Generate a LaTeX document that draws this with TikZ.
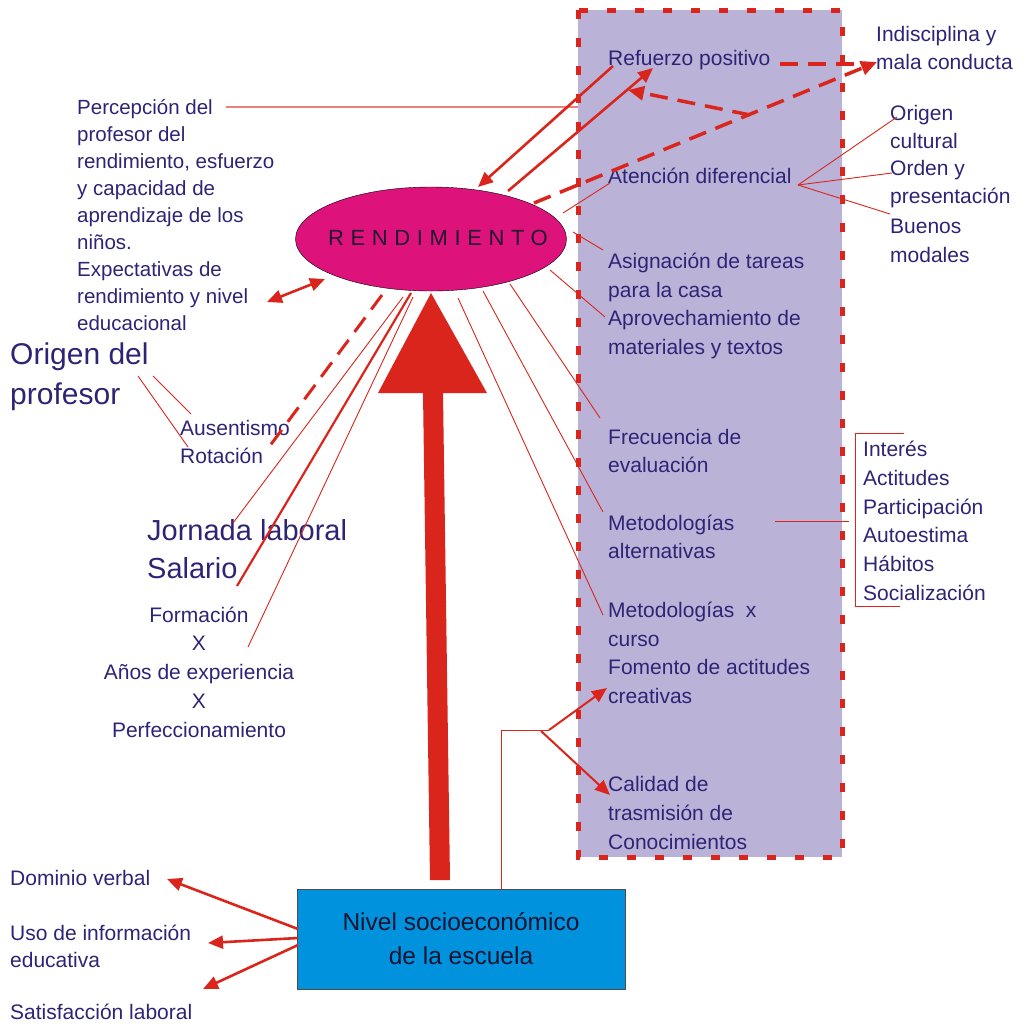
\documentclass[tikz,border=0pt]{standalone}
\usepackage{fontspec}
\setmainfont{Liberation Sans}
\usetikzlibrary{shapes.geometric,arrows.meta}

\definecolor{tinta}{RGB}{46,36,118}
\definecolor{rojo}{RGB}{218,37,29}
\definecolor{rosa}{RGB}{234,128,128}
\definecolor{lila}{RGB}{186,179,215}
\definecolor{fucsia}{RGB}{221,19,123}
\definecolor{celeste}{RGB}{0,146,221}

\tikzset{
  texto/.style={text=tinta, font=\fontsize{21}{28.7}\selectfont, align=left, inner sep=0pt, anchor=west},
  grande/.style={texto, font=\fontsize{30}{40}\selectfont},
  fino/.style={rojo, line width=0.9pt},
  flecha/.style={rojo, line width=2.6pt, -{Triangle[length=15pt,width=13pt]}},
  guion/.style={rojo, line width=3.5pt, dash pattern=on 18pt off 10pt},
}

\begin{document}
\begin{tikzpicture}[x=1pt,y=-1pt]
    \useasboundingbox (0,0) rectangle (1027,1026);

    % caja de la escuela
    \fill[lila] (578,10) rectangle (842,857);
    \draw[rojo, line width=5pt, dash pattern=on 9pt off 19pt] (578,10) rectangle (842,857);

    % flecha grande
    \fill[rojo] (423,393) -- (378,393) -- (431,293) -- (487,393) -- (443,393)
        -- (450,880) -- (430,880) -- cycle;

    % nodo central
    \node[ellipse, draw=black, fill=fucsia, minimum width=271pt, minimum height=104pt,
          inner sep=0pt] (rend) at (431,239) {};
    \node[inner sep=0pt, font=\fontsize{22}{22}\selectfont\addfontfeature{LetterSpace=30},
          text={rgb,255:red,35;green,20;blue,50}] (rendtxt) at (438,238) {RENDIMIENTO};

    \node[draw=black!70, fill=celeste, minimum width=328pt, minimum height=100pt,
          align=center, inner sep=0pt, font=\fontsize{24.5}{34}\selectfont,
          text={rgb,255:red,25;green,20;blue,50}] (nivel) at (461,939) {Nivel socioeconómico\\de la escuela};

    % textos de la caja
    \node[texto] (refuerzo) at (608,60) {Refuerzo positivo};
    \node[texto] (atencion) at (608,176) {Atención diferencial};
    \node[texto] (asigna) at (608,306) {Asignación de tareas\\para la casa\\Aprovechamiento de\\materiales y textos};
    \node[texto] (frecuencia) at (608,451) {Frecuencia de\\evaluación};
    \node[texto] (metalt) at (608,537) {Metodologías\\alternativas};
    \node[texto] (metcurso) at (608,653) {Metodologías~~x\\curso\\Fomento de actitudes\\creativas};
    \node[texto] (calidad) at (608,813) {Calidad de\\trasmisión de\\Conocimientos};

    % textos a la derecha
    \node[texto] (indisc) at (876,48) {Indisciplina y\\mala conducta};
    \node[texto] (origcult) at (890,127) {Origen\\cultural};
    \node[texto] (orden) at (890,184) {Orden y\\presentación};
    \node[texto] (buenos) at (890,241) {Buenos\\modales};
    \node[texto] (efectos) at (863,521) {Interés\\Actitudes\\Participación\\Autoestima\\Hábitos\\Socialización};

    % textos a la izquierda
    \node[texto, font=\fontsize{20.5}{27}\selectfont] (percep) at (77,215)
        {Percepción del\\profesor del\\rendimiento, esfuerzo\\y capacidad de\\aprendizaje de los\\niños.\\Expectativas de\\rendimiento y nivel\\educacional};
    \node[grande] (origprof) at (10,377) {Origen del\\profesor};
    \node[texto, font=\fontsize{21}{28}\selectfont] (ausent) at (180,442) {Ausentismo\\Rotación};
    \node[grande, font=\fontsize{29}{38}\selectfont] (jornada) at (147,549) {Jornada laboral\\Salario};
    \node[texto, align=center, anchor=center] (formacion) at (199,672)
        {Formación\\X\\Años de experiencia\\X\\Perfeccionamiento};
    \node[texto] (dominio) at (10,878) {Dominio verbal};
    \node[texto, font=\fontsize{21}{27}\selectfont] (uso) at (10,946) {Uso de información\\educativa};
    \node[texto] (satisf) at (10,1012) {Satisfacción laboral};

    % puntos de apoyo
    \coordinate (pA) at (226,107);   \coordinate (pB) at (578,107);
    \coordinate (eA) at (325,279);   \coordinate (eB) at (267,302);
    \coordinate (oA) at (153,376);   \coordinate (oB) at (191,414);
    \coordinate (oC) at (138,376);   \coordinate (oD) at (188,447);
    \coordinate (rA) at (382,295);   \coordinate (rB) at (269,447);
    \coordinate (jA) at (403,297);   \coordinate (jB) at (233,523);
    \coordinate (sA) at (411,293);   \coordinate (sB) at (237,586);
    \coordinate (fA) at (413,297);   \coordinate (fB) at (248,647);
    \coordinate (m1) at (458,298);   \coordinate (m1b) at (603,615);
    \coordinate (m2) at (483,291);   \coordinate (m2b) at (603,512);
    \coordinate (m3) at (510,284);   \coordinate (m3b) at (600,418);
    \coordinate (m4) at (550,270);   \coordinate (m4b) at (605,317);
    \coordinate (m5) at (573,232);   \coordinate (m5b) at (603,250);
    \coordinate (m6) at (563,213);   \coordinate (m6b) at (610,183);
    \coordinate (kA) at (613,66);    \coordinate (kB) at (478,187);
    \coordinate (kC) at (508,191);   \coordinate (kD) at (653,68);
    \coordinate (dA) at (534,203);   \coordinate (dB) at (877,62);
    \coordinate (dC) at (780,64);    \coordinate (dD) at (868,64);
    \coordinate (dE) at (750,115);   \coordinate (dF) at (628,90);
    \coordinate (aF) at (798,185);
    \coordinate (aO) at (897,117);   \coordinate (aR) at (892,173);   \coordinate (aU) at (890,214);
    \coordinate (tA) at (775,521);   \coordinate (tB) at (849,521);
    \coordinate (nA) at (501,889);   \coordinate (nB) at (501,730);   \coordinate (nC) at (549,730);
    \coordinate (nD) at (607,688);   \coordinate (nE) at (541,731);   \coordinate (nF) at (610,795);
    \coordinate (bA) at (298,929);   \coordinate (bB) at (167,879);
    \coordinate (bC) at (298,938);   \coordinate (bD) at (208,943);
    \coordinate (bE) at (298,945);   \coordinate (bF) at (203,989);

    % conexiones a la izquierda
    \draw[rosa, line width=1.5pt] (pA) -- (pB);
    \draw[rojo, line width=2.6pt, {Triangle[length=15pt,width=13pt]}-{Triangle[length=15pt,width=13pt]}] (eB) -- (eA);
    \draw[fino] (oA) -- (oB);
    \draw[fino] (oC) -- (oD);
    \draw[guion, line width=3pt] (rA) -- (rB);
    \draw[fino] (jA) -- (jB);
    \draw[rojo, line width=2.2pt] (sA) -- (sB);
    \draw[fino] (fA) -- (fB);

    % conexiones hacia la caja
    \draw[fino] (m1) -- (m1b);
    \draw[fino] (m2) -- (m2b);
    \draw[fino] (m3) -- (m3b);
    \draw[fino] (m4) -- (m4b);
    \draw[fino] (m5) -- (m5b);
    \draw[fino] (m6) -- (m6b);
    \draw[flecha] (kA) -- (kB);
    \draw[flecha] (kC) -- (kD);

    % lineas discontinuas
    \draw[guion, -{Triangle[length=16pt,width=14pt]}] (dA) -- (dB);
    \draw[guion] (dC) -- (dD);
    \draw[guion, -{Triangle[length=16pt,width=14pt]}] (dE) -- (dF);

    % atencion diferencial
    \draw[fino] (aF) -- (aO);
    \draw[fino] (aF) -- (aR);
    \draw[fino] (aF) -- (aU);

    % corchete
    \draw[fino] (tA) -- (tB);
    \draw[fino] (904,433) -- (855,433) -- (855,606) -- (900,606);

    % nivel socioeconomico
    \draw[fino] (nA) -- (nB) -- (nC);
    \draw[flecha, line width=2pt] (nC) -- (nD);
    \draw[flecha, line width=2pt] (nE) -- (nF);
    \draw[flecha] (bA) -- (bB);
    \draw[flecha] (bC) -- (bD);
    \draw[flecha] (bE) -- (bF);
\end{tikzpicture}
\end{document}
